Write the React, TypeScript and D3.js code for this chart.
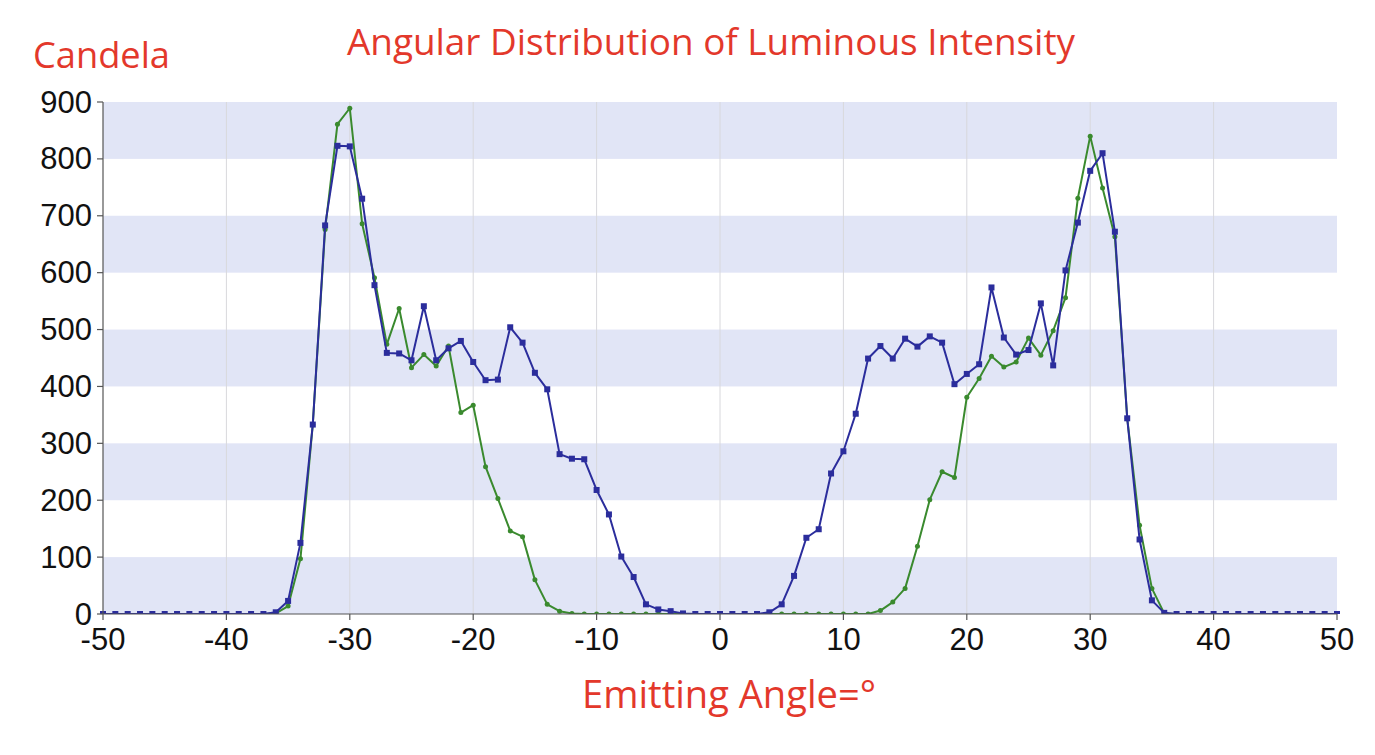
import React, { useRef, useEffect } from 'react'
import { select, scaleLinear, line, range } from 'd3'

// emitting angle in degrees, one reading per degree
const angles = [
    -50, -49, -48, -47, -46, -45, -44, -43, -42, -41, -40, -39, -38, -37, -36, -35, -34,
    -33, -32, -31, -30, -29, -28, -27, -26, -25, -24, -23, -22, -21, -20, -19, -18, -17,
    -16, -15, -14, -13, -12, -11, -10, -9, -8, -7, -6, -5, -4, -3, -2, -1, 0, 1, 2, 3, 4,
    5, 6, 7, 8, 9, 10, 11, 12, 13, 14, 15, 16, 17, 18, 19, 20, 21, 22, 23, 24, 25, 26, 27,
    28, 29, 30, 31, 32, 33, 34, 35, 36, 37, 38, 39, 40, 41, 42, 43, 44, 45, 46, 47, 48,
    49, 50,
]

// candela, blue series
const blueValues = [
    0, 0, 0, 0, 0, 0, 0, 0, 0, 0, 0, 0, 0, 0, 3, 23, 125,
    333, 683, 823, 822, 730, 578, 459, 458, 446, 541, 446, 467, 480, 443, 411, 412, 504,
    477, 424, 395, 281, 273, 272, 218, 175, 101, 65, 17, 8, 5, 1, 0, 0, 0, 0, 0, 0, 3,
    17, 67, 134, 149, 247, 286, 352, 449, 471, 449, 484, 470, 488, 477, 404, 422, 439, 574, 486, 456, 464, 546, 437,
    604, 688, 779, 810, 672, 344, 131, 24, 2, 0, 0, 0, 0, 0, 0, 0, 0,
    0, 0, 0, 0, 0, 0,
]

// candela, green series
const greenValues = [
    0, 0, 0, 0, 0, 0, 0, 0, 0, 0, 0, 0, 0, 0, 1, 14, 97,
    333, 676, 861, 889, 686, 591, 474, 537, 433, 456, 436, 471, 354, 367, 259, 203, 146,
    136, 60, 17, 5, 1, 0, 0, 0, 0, 0, 0, 0, 0, 0, 0, 0, 0, 0, 0, 0, 0,
    0, 0, 0, 0, 0, 0, 0, 0, 6, 21, 45, 119, 201, 250, 240, 381, 414, 453, 434, 443, 485, 455, 498,
    556, 731, 840, 749, 663, 344, 156, 45, 1, 0, 0, 0, 0, 0, 0, 0, 0,
    0, 0, 0, 0, 0, 0,
]

const xTicks = [-50, -40, -30, -20, -10, 0, 10, 20, 30, 40, 50]
const yTicks = [0, 100, 200, 300, 400, 500, 600, 700, 800, 900]

const W = 1375
const H = 755
const margin = { top: 102, right: 38, bottom: 141, left: 103 }

const App = () => {
    const svgRef = useRef<any>()

    useEffect(() => {
        const svg = select(svgRef.current)
        svg.selectAll('*').remove()

        const x = scaleLinear().domain([-50, 50]).range([margin.left, W - margin.right])
        const y = scaleLinear().domain([0, 900]).range([H - margin.bottom, margin.top])

        svg.append('defs')
            .append('clipPath')
            .attr('id', 'plot-clip')
            .append('rect')
            .attr('x', x(-50) - 4)
            .attr('y', y(900) - 10)
            .attr('width', x(50) - x(-50) + 8)
            .attr('height', y(0) - y(900) + 10)

        // alternating bands
        svg.append('g')
            .selectAll('rect')
            .data(yTicks.filter(t => t % 200 === 0 && t < 900))
            .join('rect')
            .attr('x', x(-50))
            .attr('width', x(50) - x(-50))
            .attr('y', d => y(d + 100))
            .attr('height', d => y(d) - y(d + 100))
            .attr('fill', '#e1e5f6')

        // vertical grid
        svg.append('g')
            .selectAll('line')
            .data(xTicks.filter(t => t > -50 && t < 50))
            .join('line')
            .attr('x1', d => x(d)).attr('x2', d => x(d))
            .attr('y1', y(900)).attr('y2', y(0))
            .attr('stroke', '#d8d8dc')
            .attr('stroke-width', 1)

        const series = [
            { name: 'green', values: greenValues, color: '#3a8a2e', marker: 'dot' },
            { name: 'blue', values: blueValues, color: '#2b2d9c', marker: 'square' },
        ]

        series.forEach(s => {
            const pts = range(angles.length).map(i => [angles[i], s.values[i]])
            const path = line<any>()
                .x(d => x(d[0]))
                .y(d => y(d[1]))

            const g = svg.append('g').attr('clip-path', 'url(#plot-clip)')
            g.append('path')
                .datum(pts)
                .attr('d', path)
                .attr('fill', 'none')
                .attr('stroke', s.color)
                .attr('stroke-width', 2)
                .attr('stroke-linejoin', 'round')

            if (s.marker === 'square') {
                g.selectAll('rect')
                    .data(pts)
                    .join('rect')
                    .attr('x', d => x(d[0]) - 3)
                    .attr('y', d => y(d[1]) - 3)
                    .attr('width', 6)
                    .attr('height', 6)
                    .attr('fill', s.color)
            } else {
                g.selectAll('circle')
                    .data(pts)
                    .join('circle')
                    .attr('cx', d => x(d[0]))
                    .attr('cy', d => y(d[1]))
                    .attr('r', 2.5)
                    .attr('fill', s.color)
            }
        })

        // axes
        const axis = svg.append('g').attr('stroke', '#555').attr('stroke-width', 1.2)
        axis.append('line')
            .attr('x1', x(-50)).attr('x2', x(-50))
            .attr('y1', y(900)).attr('y2', y(0))
        axis.append('line')
            .attr('x1', x(-50)).attr('x2', x(50))
            .attr('y1', y(0)).attr('y2', y(0))
        axis.selectAll('.ytick')
            .data(yTicks)
            .join('line')
            .attr('x1', x(-50) - 6).attr('x2', x(-50))
            .attr('y1', d => y(d)).attr('y2', d => y(d))
        axis.selectAll('.xtick')
            .data(xTicks)
            .join('line')
            .attr('x1', d => x(d)).attr('x2', d => x(d))
            .attr('y1', y(0)).attr('y2', y(0) + 6)

        const tickFont = '"Liberation Sans", Arial, sans-serif'
        svg.append('g')
            .selectAll('text')
            .data(yTicks)
            .join('text')
            .attr('x', x(-50) - 11)
            .attr('y', d => y(d))
            .attr('dy', '0.34em')
            .attr('text-anchor', 'end')
            .attr('font-family', tickFont)
            .attr('font-size', 31)
            .attr('fill', '#111')
            .text(d => d)

        svg.append('g')
            .selectAll('text')
            .data(xTicks)
            .join('text')
            .attr('x', d => x(d))
            .attr('y', y(0) + 36)
            .attr('text-anchor', 'middle')
            .attr('font-family', tickFont)
            .attr('font-size', 31)
            .attr('fill', '#111')
            .text(d => d)

        // titles
        const titleFont = '"Open Sans", "Noto Sans", sans-serif'
        svg.append('text')
            .attr('x', 33).attr('y', 68)
            .attr('font-family', titleFont)
            .attr('font-size', 36)
            .attr('fill', '#e3382b')
            .attr('textLength', 137)
            .attr('lengthAdjust', 'spacingAndGlyphs')
            .text('Candela')

        svg.append('text')
            .attr('x', 347).attr('y', 55)
            .attr('font-family', titleFont)
            .attr('font-size', 36)
            .attr('fill', '#e3382b')
            .attr('textLength', 728)
            .attr('lengthAdjust', 'spacingAndGlyphs')
            .text('Angular Distribution of Luminous Intensity')

        svg.append('text')
            .attr('x', 582).attr('y', 708)
            .attr('font-family', titleFont)
            .attr('font-size', 38)
            .attr('fill', '#e3382b')
            .attr('textLength', 294)
            .attr('lengthAdjust', 'spacingAndGlyphs')
            .text('Emitting Angle=°')
    }, [svgRef])

    return (
        <svg
            ref={svgRef}
            width={W}
            height={H}
            style={{ position: 'absolute', left: 0, top: 0, background: '#fff' }}
        />
    )
}

export default App
